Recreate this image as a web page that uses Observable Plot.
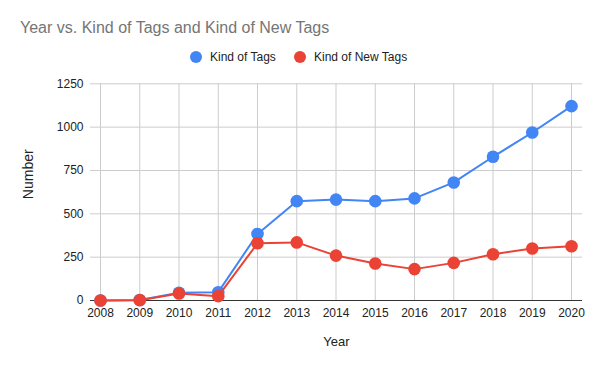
<!DOCTYPE html>
<html>
<head>
<meta charset="utf-8">
<script src="https://cdn.jsdelivr.net/npm/d3@7"></script>
<script src="https://cdn.jsdelivr.net/npm/@observablehq/plot@0.6"></script>
<style>
  html, body { margin: 0; padding: 0; background: #fff; }
  #wrap { width: 600px; height: 371px; position: relative; overflow: hidden; font-family: "Liberation Sans", Arial, sans-serif; }
  #header { height: 70px; position: relative; }
  #title { position: absolute; left: 20px; top: 19.8px; font-size: 16px; line-height: 16px; color: #757575; white-space: nowrap; }
  .sw { position: absolute; width: 12px; height: 12px; border-radius: 50%; top: 50.7px; }
  .lt { position: absolute; top: 50.8px; font-size: 12px; line-height: 12px; color: #222; white-space: nowrap; }
  svg { display: block; }
</style>
</head>
<body>
<div id="wrap">
  <div id="header">
    <div id="title"></div>
  </div>
  <div id="chart"></div>
</div>
<script>
const titleText = "Year vs. Kind of Tags and Kind of New Tags";
const seriesNames = ["Kind of Tags", "Kind of New Tags"];
const seriesColors = ["#4285f4", "#ea4335"];
const years = [2008, 2009, 2010, 2011, 2012, 2013, 2014, 2015, 2016, 2017, 2018, 2019, 2020];
const kindOfTags = [0, 3, 45, 48, 384, 573, 582, 573, 589, 681, 829, 969, 1121];
const kindOfNewTags = [0, 2, 40, 25, 330, 335, 259, 213, 181, 217, 267, 300, 313];
const yTicks = [0, 250, 500, 750, 1000, 1250];
const xLabel = "Year";
const yLabel = "Number";

document.getElementById("title").textContent = titleText;
const header = document.getElementById("header");
const legendSwatchX = [190, 294];
const legendTextX = [210, 314];
seriesNames.forEach((n, i) => {
  const sw = document.createElement("div");
  sw.className = "sw";
  sw.style.left = legendSwatchX[i] + "px";
  sw.style.background = seriesColors[i];
  const t = document.createElement("div");
  t.className = "lt";
  t.style.left = legendTextX[i] + "px";
  t.textContent = n;
  header.appendChild(sw); header.appendChild(t);
});

const rows = [];
years.forEach((y, i) => rows.push({year: y, value: kindOfTags[i], series: seriesNames[0]}));
years.forEach((y, i) => rows.push({year: y, value: kindOfNewTags[i], series: seriesNames[1]}));
const blue = rows.filter(d => d.series === seriesNames[0]);
const red = rows.filter(d => d.series === seriesNames[1]);

const chart = Plot.plot({
  width: 600,
  height: 301,
  marginTop: 13.3,
  marginBottom: 71,
  marginLeft: 90,
  marginRight: 18,
  style: {fontFamily: '"Liberation Sans", Arial, sans-serif', fontSize: "12px", color: "#222", background: "#fff"},
  x: {domain: [2007.745, 2020.28], ticks: years, tickFormat: d => String(d), label: null},
  y: {domain: [0, 1250], ticks: yTicks, tickFormat: d => String(d), label: null},
  marks: [
    Plot.gridY(yTicks, {stroke: "#cccccc", strokeOpacity: 1, strokeWidth: 1}),
    Plot.gridX(years, {stroke: "#cccccc", strokeOpacity: 1, strokeWidth: 1}),
    Plot.ruleY([0], {stroke: "#333333", strokeWidth: 1}),
    Plot.axisX(years, {tickSize: 0, tickPadding: 8, tickFormat: d => String(d), label: null, fill: "#222"}),
    Plot.axisY(yTicks, {tickSize: 0, tickPadding: 7, tickFormat: d => String(d), label: null, fill: "#222"}),
    Plot.line(blue, {x: "year", y: "value", stroke: seriesColors[0], strokeWidth: 2}),
    Plot.dot(blue, {x: "year", y: "value", r: 6.3, fill: seriesColors[0]}),
    Plot.line(red, {x: "year", y: "value", stroke: seriesColors[1], strokeWidth: 2}),
    Plot.dot(red, {x: "year", y: "value", r: 6.3, fill: seriesColors[1]}),
    Plot.text([xLabel], {frameAnchor: "bottom", dy: 45, text: d => d, fontSize: 13, fill: "#222"}),
    Plot.text([yLabel], {frameAnchor: "left", dx: -61.5, dy: 7, rotate: -90, text: d => d, fontSize: 14, fill: "#222"})
  ]
});
document.getElementById("chart").appendChild(chart);
</script>
</body>
</html>
